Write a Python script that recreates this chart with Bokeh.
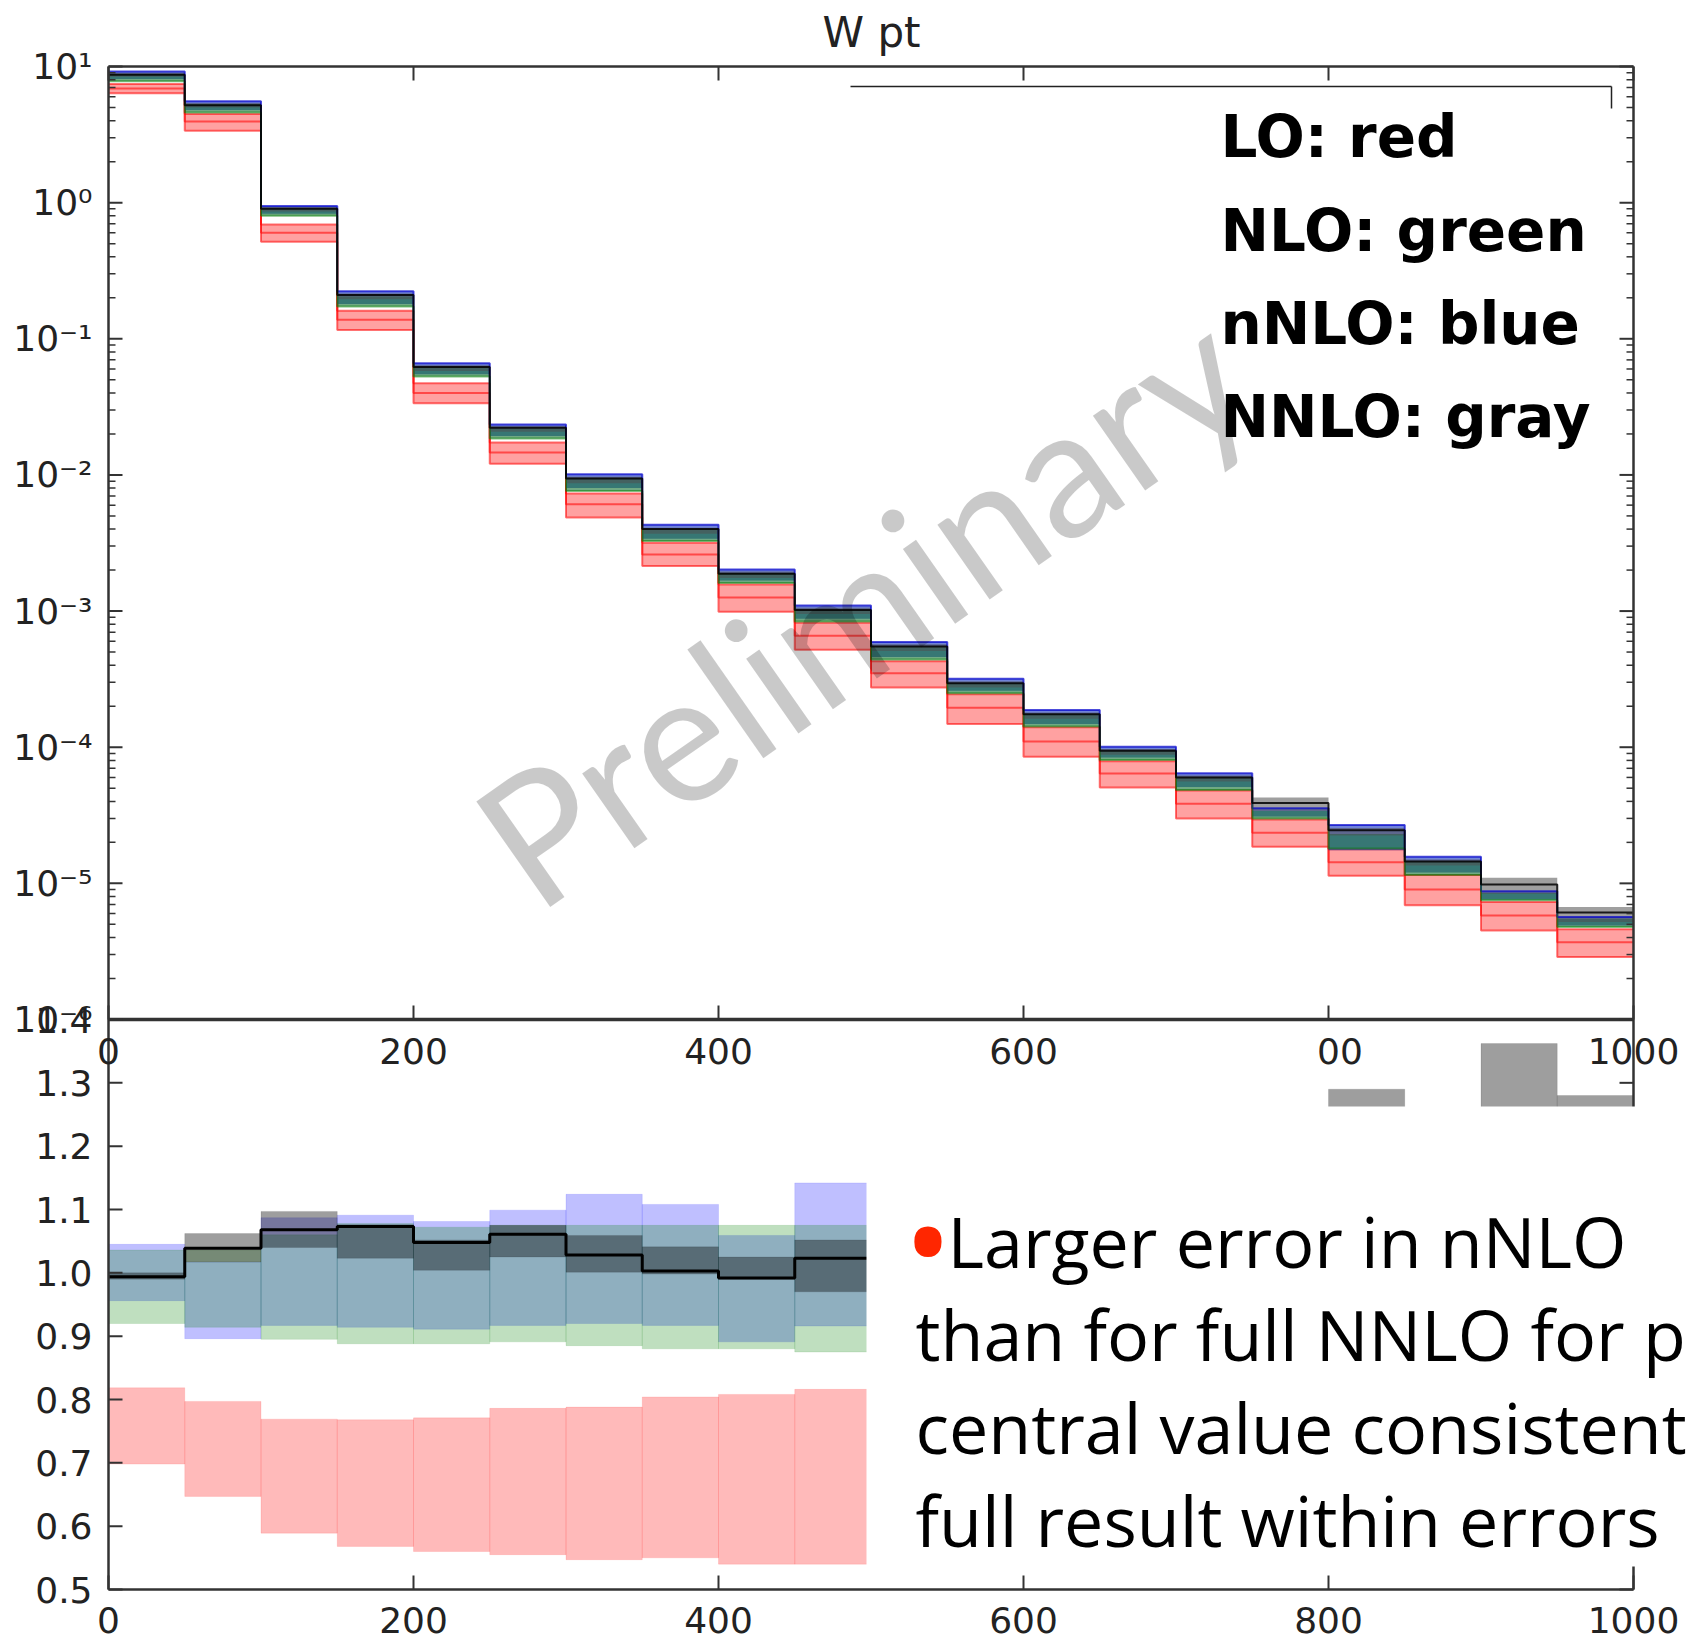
import math
from bokeh.plotting import figure
from bokeh.models import Range1d, LogScale, Label, BoxAnnotation
from bokeh.embed import file_html
from bokeh.resources import INLINE
from bokeh.core.properties import value

# ------------------------------------------------------------------ data
bin_left = [0, 50, 100, 150, 200, 250, 300, 350, 400, 450,
            500, 550, 600, 650, 700, 750, 800, 850, 900, 950]
bin_right = [50, 100, 150, 200, 250, 300, 350, 400, 450, 500,
             550, 600, 650, 700, 750, 800, 850, 900, 950, 1000]

# upper panel: d sigma / d pT (log scale)
lo_hi = [7.45, 4.48, 0.69, 0.161, 0.0471, 0.0173, 0.0073, 0.00318, 0.00157, 0.00082,
         4.28e-4, 2.45e-4, 1.40e-4, 7.9e-5, 4.8e-5, 2.95e-5, 1.78e-5, 1.15e-5, 7.3e-6, 4.6e-6]
lo_mid = [6.9, 3.95, 0.60, 0.138, 0.040, 0.0146, 0.0061, 0.0026, 0.00126, 0.00066,
          3.5e-4, 1.95e-4, 1.1e-4, 6.4e-5, 3.85e-5, 2.35e-5, 1.43e-5, 9.0e-6, 5.8e-6, 3.7e-6]
lo_lo = [6.36, 3.38, 0.516, 0.116, 0.0336, 0.0121, 0.00486, 0.00214, 0.000987, 0.00052,
         2.75e-4, 1.48e-4, 8.5e-5, 5.05e-5, 3.0e-5, 1.86e-5, 1.135e-5, 6.9e-6, 4.5e-6, 2.88e-6]
nlo_hi = [8.8, 5.3, 0.90, 0.205, 0.062, 0.022, 0.0094, 0.0040, 0.0019, 0.00102,
          5.5e-4, 2.95e-4, 1.75e-4, 9.4e-5, 6.0e-5, 3.4e-5, 2.3e-5, 1.45e-5, 8.5e-6, 5.5e-6]
nlo_lo = [7.8, 4.6, 0.80, 0.173, 0.0528, 0.0185, 0.00763, 0.00327, 0.00161, 0.00084,
          4.4e-4, 2.49e-4, 1.42e-4, 8.07e-5, 4.86e-5, 3.0e-5, 1.8e-5, 1.15e-5, 7.5e-6, 4.78e-6]
nnlo_approx_hi = [9.2, 5.55, 0.945, 0.223, 0.0662, 0.0235, 0.0101, 0.0043, 0.00202, 0.0011,
                  5.93e-4, 3.18e-4, 1.88e-4, 1.01e-4, 6.44e-5, 3.56e-5, 2.68e-5, 1.57e-5, 8.75e-6, 5.66e-6]
nnlo_approx_lo = [8.1, 4.8, 0.83, 0.18, 0.055, 0.0193, 0.0080, 0.0034, 0.00168, 0.00088,
                  4.6e-4, 2.6e-4, 1.48e-4, 8.4e-5, 5.1e-5, 3.1e-5, 1.75e-5, 1.2e-5, 7.6e-6, 4.9e-6]
nnlo_hi = [9.0, 5.4, 0.93, 0.215, 0.064, 0.0228, 0.0097, 0.0041, 0.00195, 0.00106,
           5.7e-4, 3.05e-4, 1.8e-4, 9.7e-5, 6.2e-5, 4.27e-5, 2.55e-5, 1.5e-5, 1.1e-5, 6.7e-6]
nnlo_lo = [8.4, 5.0, 0.86, 0.195, 0.058, 0.0208, 0.0087, 0.0037, 0.00175, 0.00095,
           5.1e-4, 2.75e-4, 1.62e-4, 8.8e-5, 5.6e-5, 3.4e-5, 2.25e-5, 1.35e-5, 8.4e-6, 5.2e-6]
nnlo_central = [8.7, 5.2, 0.90, 0.21, 0.062, 0.0222, 0.0094, 0.0040, 0.00188, 0.00102,
                5.5e-4, 2.95e-4, 1.75e-4, 9.4e-5, 6.0e-5, 3.9e-5, 2.45e-5, 1.45e-5, 9.8e-6, 6.1e-6]

# lower panel: ratios (bins above 500 GeV are mostly hidden under the text box)
r_lo_hi = [0.8185, 0.797, 0.769, 0.768, 0.771, 0.786, 0.788, 0.804, 0.808, 0.816,
           0.82, 0.82, 0.82, 0.82, 0.82, 0.82, 0.82, 0.82, 0.82, 0.82]
r_lo_lo = [0.698, 0.647, 0.589, 0.568, 0.560, 0.555, 0.547, 0.550, 0.540, 0.540,
           0.54, 0.54, 0.54, 0.54, 0.54, 0.54, 0.54, 0.54, 0.54, 0.54]
r_nlo_hi = [1.036, 1.036, 1.060, 1.078, 1.072, 1.075, 1.075, 1.075, 1.075, 1.075,
            1.08, 1.08, 1.08, 1.08, 1.08, 1.08, 1.08, 1.08, 1.08, 1.08]
r_nlo_lo = [0.920, 0.914, 0.895, 0.888, 0.888, 0.891, 0.885, 0.880, 0.880, 0.875,
            0.87, 0.87, 0.87, 0.87, 0.87, 0.87, 0.87, 0.87, 0.87, 0.87]
r_nnlo_approx_hi = [1.045, 1.017, 1.087, 1.091, 1.081, 1.099, 1.124, 1.108, 1.059, 1.142,
                    1.10, 1.09, 1.12, 1.10, 1.14, 1.10, 1.18, 1.12, 1.10, 1.12]
r_nnlo_approx_lo = [0.956, 0.896, 0.917, 0.914, 0.911, 0.917, 0.920, 0.917, 0.891, 0.916,
                    0.90, 0.91, 0.90, 0.92, 0.90, 0.90, 0.88, 0.90, 0.89, 0.90]
r_nnlo_hi = [1.000, 1.062, 1.097, 1.076, 1.052, 1.075, 1.059, 1.041, 1.025, 1.052,
             1.06, 1.08, 1.10, 1.09, 1.12, 1.22, 1.29, 1.18, 1.362, 1.28]
r_nnlo_lo = [0.990, 1.017, 1.040, 1.023, 1.004, 1.025, 1.001, 0.998, 0.990, 0.970,
             0.99, 1.00, 0.99, 0.98, 0.97, 0.98, 0.95, 0.96, 0.97, 0.96]
r_nnlo_central = [0.994, 1.039, 1.068, 1.073, 1.048, 1.061, 1.028, 1.003, 0.992, 1.023,
                  1.02, 1.03, 1.04, 1.03, 1.04, 1.10, 1.12, 1.07, 1.16, 1.11]

x_ticks = [0, 200, 400, 600, 800, 1000]
x_tick_labels = ["0", "200", "400", "600", "800", "1000"]
ratio_ticks = [0.5, 0.6, 0.7, 0.8, 0.9, 1.0, 1.1, 1.2, 1.3, 1.4]
ratio_tick_labels = ["0.5", "0.6", "0.7", "0.8", "0.9", "1.0", "1.1", "1.2", "1.3", "1.4"]
log_decades = [-6, -5, -4, -3, -2, -1, 0, 1]
log_tick_labels = ["10⁻⁶", "10⁻⁵", "10⁻⁴", "10⁻³", "10⁻²", "10⁻¹", "10⁰", "10¹"]
log_minor_mult = [2, 3, 4, 5, 6, 7, 8, 9]

title_text = "W pt"
legend_lines = ["LO: red", "NLO: green", "nNLO: blue", "NNLO: gray"]
bullet_lines = ["Larger error in nNLO", "than for full NNLO for p",
                "central value consistent", "full result within errors"]
watermark = "Preliminary"

# ------------------------------------------------------------------ layout
W, H = 1688, 1641
X0PX, X1PX = 108.0, 1633.0        # pixel of x = 0 and x = 1000
YTOP, YJ, YBOT = 66.0, 1019.0, 1589.0   # pixel of 10^1, of 10^-6 / 1.4, of 0.5
PX_X = (X1PX - X0PX) / 1000.0
PX_R = (YBOT - YJ) / 0.9
PX_DEC = (YJ - YTOP) / 7.0

x_start = -X0PX / PX_X
x_end = 1000.0 + (W - X1PX) / PX_X
r_start = 0.5 - (H - YBOT) / PX_R
r_end = 1.4 + YJ / PX_R
log_top = 1.0 + YTOP / PX_DEC
log_bot = -6.0 - (H - YJ) / PX_DEC


def xd(px):
    return (px - X0PX) / PX_X


def yd(py):
    return 0.5 + (YBOT - py) / PX_R


def r_of_log(lv):
    return 1.4 + (lv + 6.0) * PX_DEC / PX_R


def stepy(vals):
    return list(vals) + [vals[-1]]


edges = bin_left + [bin_right[-1]]

p = figure(width=W, height=H, x_range=Range1d(x_start, x_end),
           y_range=Range1d(r_start, r_end), title=None,
           x_axis_location=None, y_axis_location=None, output_backend="svg",
           toolbar_location=None, min_border=0, min_border_left=0,
           min_border_right=0, min_border_top=0, min_border_bottom=0,
           background_fill_color="white", border_fill_color="white")
p.outline_line_color = None
p.grid.visible = False
p.extra_y_ranges = {"log": Range1d(10 ** log_bot, 10 ** log_top)}
p.extra_y_scales = {"log": LogScale()}

# ---------------- upper panel bands
p.quad(left=bin_left, right=bin_right, bottom=lo_lo, top=lo_hi, y_range_name="log",
       fill_color="#ff2020", fill_alpha=0.42, line_color=None)
for vals in (lo_hi, lo_mid, lo_lo):
    p.step(x=edges, y=stepy(vals), mode="after", y_range_name="log",
           line_color="#ff0000", line_alpha=0.55, line_width=2)
p.quad(left=bin_left, right=bin_right, bottom=nnlo_approx_lo, top=nnlo_approx_hi,
       y_range_name="log", fill_color="#1030c0", fill_alpha=0.6, line_color=None)
p.quad(left=bin_left, right=bin_right, bottom=nlo_lo, top=nlo_hi, y_range_name="log",
       fill_color="#107030", fill_alpha=0.6, line_color=None)
p.quad(left=bin_left, right=bin_right, bottom=nnlo_lo, top=nnlo_hi, y_range_name="log",
       fill_color="#505050", fill_alpha=0.55, line_color=None)
p.step(x=edges, y=stepy(nnlo_approx_hi), mode="after", y_range_name="log",
       line_color="#0000cc", line_alpha=0.7, line_width=2)
p.step(x=edges, y=stepy(nlo_lo), mode="after", y_range_name="log",
       line_color="#008000", line_alpha=0.5, line_width=2)
p.step(x=edges, y=stepy(nnlo_central), mode="after", y_range_name="log",
       line_color="#000000", line_alpha=0.85, line_width=2)

# ---------------- lower panel bands
p.quad(left=bin_left, right=bin_right, bottom=r_lo_lo, top=r_lo_hi,
       fill_color="#ff0000", fill_alpha=0.27, line_color="#ff0000", line_alpha=0.1)
p.quad(left=bin_left, right=bin_right, bottom=r_nnlo_approx_lo, top=r_nnlo_approx_hi,
       fill_color="#0000ff", fill_alpha=0.25, line_color="#0000ff", line_alpha=0.1)
p.quad(left=bin_left, right=bin_right, bottom=r_nlo_lo, top=r_nlo_hi,
       fill_color="#008000", fill_alpha=0.25, line_color="#008000", line_alpha=0.1)
p.quad(left=bin_left, right=bin_right, bottom=r_nnlo_lo, top=r_nnlo_hi,
       fill_color="#000000", fill_alpha=0.38, line_color="#000000", line_alpha=0.1)
p.step(x=edges, y=stepy(r_nnlo_central), mode="after",
       line_color="#000000", line_width=3)

# ---------------- axes (matplotlib style: spines with inward ticks)
AX = "#333333"
TXT = "#222222"
r_top = r_of_log(1)
y_major = ratio_ticks + [r_of_log(k) for k in log_decades]
y_labels = ratio_tick_labels + log_tick_labels
y_minor = [r_of_log(k + math.log10(m)) for k in log_decades[:-1] for m in log_minor_mult]
MAJ, MIN = 14.0, 7.0

# spines: left, right, top, bottom, panel junction
p.segment(x0=[0, 1000, 0, 0], y0=[0.5, 0.5, r_top, 0.5],
          x1=[0, 1000, 1000, 1000], y1=[r_top, r_top, r_top, 0.5],
          line_color=AX, line_width=2.5)
p.segment(x0=[0], y0=[1.4], x1=[1000], y1=[1.4], line_color=AX, line_width=3.5)

# y ticks on the left and right spines
p.segment(x0=[0] * len(y_major), y0=y_major, x1=[MAJ / PX_X] * len(y_major), y1=y_major,
          line_color=AX, line_width=2)
p.segment(x0=[0] * len(y_minor), y0=y_minor, x1=[MIN / PX_X] * len(y_minor), y1=y_minor,
          line_color=AX, line_width=1.5)
p.segment(x0=[1000] * len(y_major), y0=y_major, x1=[1000 - MAJ / PX_X] * len(y_major),
          y1=y_major, line_color=AX, line_width=2)
p.segment(x0=[1000] * len(y_minor), y0=y_minor, x1=[1000 - MIN / PX_X] * len(y_minor),
          y1=y_minor, line_color=AX, line_width=1.5)

# x ticks: top spine (down), junction (up), bottom spine (up)
nx = len(x_ticks)
p.segment(x0=x_ticks, y0=[r_top] * nx, x1=x_ticks, y1=[r_top - MAJ / PX_R] * nx,
          line_color=AX, line_width=2)
p.segment(x0=x_ticks, y0=[1.4] * nx, x1=x_ticks, y1=[1.4 + MAJ / PX_R] * nx,
          line_color=AX, line_width=2)
p.segment(x0=x_ticks, y0=[0.5] * nx, x1=x_ticks, y1=[0.5 + MAJ / PX_R] * nx,
          line_color=AX, line_width=2)

# tick labels
p.text(x=[xd(92)] * len(y_major), y=y_major, text=y_labels, text_align="right",
       text_baseline="middle", text_font=value("DejaVu Sans"), text_font_size="36px",
       text_color=TXT)
p.text(x=x_ticks, y=[yd(1050)] * nx, text=x_tick_labels, text_align="center",
       text_baseline="middle", text_font=value("DejaVu Sans"), text_font_size="36px",
       text_color=TXT)
p.text(x=x_ticks, y=[yd(1619)] * nx, text=x_tick_labels, text_align="center",
       text_baseline="middle", text_font=value("DejaVu Sans"), text_font_size="36px",
       text_color=TXT)

# ---------------- overlays of the slide
p.add_layout(BoxAnnotation(left=xd(866), right=xd(W), top=yd(1106), bottom=yd(1566),
                           fill_color="white", fill_alpha=1.0, line_color=None))
p.add_layout(BoxAnnotation(left=xd(1255), right=xd(1318), top=yd(1031), bottom=yd(1075),
                           fill_color="white", fill_alpha=1.0, line_color=None))

# title
p.add_layout(Label(x=xd(871), y=yd(32), text=title_text, text_align="center",
                   text_baseline="middle", text_font="DejaVu Sans",
                   text_font_size="42px", text_color=TXT))

# watermark
p.add_layout(Label(x=xd(860), y=yd(604), text=watermark, angle=35, angle_units="deg",
                   text_align="center", text_baseline="middle", text_font="Lato",
                   text_font_size="180px", text_color="#000000", text_alpha=0.21))

# legend frame remnant
p.segment(x0=[xd(850), xd(1611)], y0=[yd(86), yd(86)], x1=[xd(1611), xd(1611)],
          y1=[yd(86), yd(108)], line_color=TXT, line_width=1.5)

legend_centers = [136, 230, 323, 416]
for txt, yc in zip(legend_lines, legend_centers):
    p.add_layout(Label(x=xd(1220), y=yd(yc), text=txt, text_align="left",
                       text_baseline="middle", text_font="DejaVu Sans",
                       text_font_style="bold", text_font_size="58px",
                       text_color="#000000"))

bullet_centers = [1240, 1333, 1426, 1519]
p.add_layout(Label(x=xd(903), y=yd(1238), text="•", text_align="left",
                   text_baseline="middle", text_font="Open Sans",
                   text_font_size="130px", text_color="#ff2600"))
for i, (txt, yc) in enumerate(zip(bullet_lines, bullet_centers)):
    p.add_layout(Label(x=xd(947 if i == 0 else 915), y=yd(yc), text=txt,
                       text_align="left", text_baseline="middle",
                       text_font="Open Sans", text_font_size="70px",
                       text_color="#000000"))

open("out.html", "w").write(file_html(p, INLINE))
